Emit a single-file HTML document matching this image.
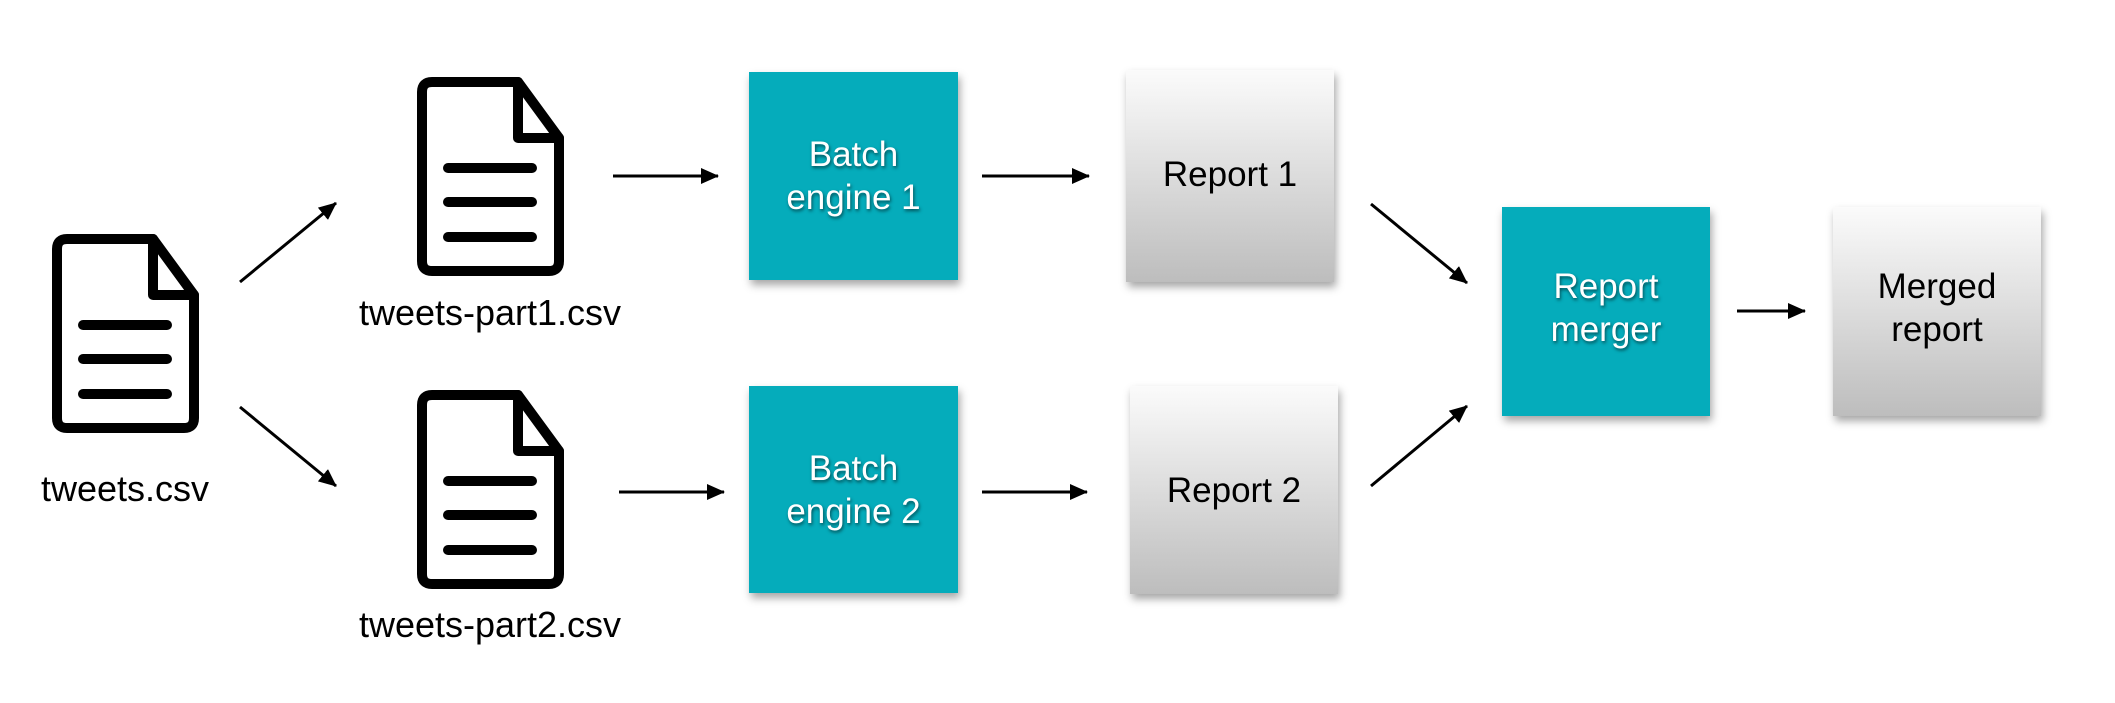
<!DOCTYPE html>
<html><head><meta charset="utf-8"><style>
body{margin:0;width:2115px;height:703px;background:#fff;position:relative;overflow:hidden;font-family:"Liberation Sans",sans-serif}
.b{position:absolute;display:flex;align-items:center;justify-content:center;text-align:center;font-size:35px;line-height:43px;box-shadow:2px 5px 8px rgba(0,0,0,.35)}
.t{background:#05acbb;color:#fff;text-shadow:1px 2px 3px rgba(0,0,0,.55)}
.g{background:linear-gradient(#fbfbfb,#bdbdbd);color:#000}
.l{position:absolute;font-size:36px;transform:translateX(-50%);white-space:nowrap}
svg{position:absolute;left:0;top:0}
</style></head><body>
<svg width="2115" height="703">
<defs>
<marker id="m" markerWidth="18" markerHeight="16" refX="17" refY="8" orient="auto" markerUnits="userSpaceOnUse" viewBox="0 0 18 16"><path d="M0,0 L18,8 L0,16 z"/></marker>
<g id="doc" fill="none" stroke="#000" stroke-width="10" stroke-linejoin="round" stroke-linecap="round">
<path d="M14,4 H100 L141,60 V183 Q141,193 131,193 H14 Q4,193 4,183 V14 Q4,4 14,4 Z"/>
<path d="M100,4 V60 H141"/>
<path d="M30,90 H114 M30,124 H114 M30,159 H114"/>
</g>
</defs>
<use href="#doc" x="53" y="235"/>
<use href="#doc" x="418" y="78"/>
<use href="#doc" x="418" y="391"/>
<g stroke="#000" stroke-width="3" marker-end="url(#m)">
<line x1="240" y1="282" x2="336" y2="203"/>
<line x1="240" y1="407" x2="336" y2="486"/>
<line x1="613" y1="176" x2="718" y2="176"/>
<line x1="619" y1="492" x2="724" y2="492"/>
<line x1="982" y1="176" x2="1089" y2="176"/>
<line x1="982" y1="492" x2="1087" y2="492"/>
<line x1="1371" y1="204" x2="1467" y2="283"/>
<line x1="1371" y1="486" x2="1467" y2="406"/>
<line x1="1737" y1="311" x2="1805" y2="311"/>
</g>
</svg>
<div class="l" style="left:125px;top:468px">tweets.csv</div>
<div class="l" style="left:490px;top:292px">tweets-part1.csv</div>
<div class="l" style="left:490px;top:604px">tweets-part2.csv</div>
<div class="b t" style="left:749px;top:72px;width:209px;height:208px">Batch<br>engine 1</div>
<div class="b t" style="left:749px;top:386px;width:209px;height:207px">Batch<br>engine 2</div>
<div class="b g" style="left:1126px;top:70px;width:208px;height:212px;padding-bottom:4px;box-sizing:border-box">Report 1</div>
<div class="b g" style="left:1130px;top:386px;width:208px;height:208px;">Report 2</div>
<div class="b t" style="left:1502px;top:207px;width:208px;height:209px;padding-bottom:8px;box-sizing:border-box">Report<br>merger</div>
<div class="b g" style="left:1833px;top:207px;width:208px;height:209px;padding-bottom:8px;box-sizing:border-box">Merged<br>report</div>
</body></html>
